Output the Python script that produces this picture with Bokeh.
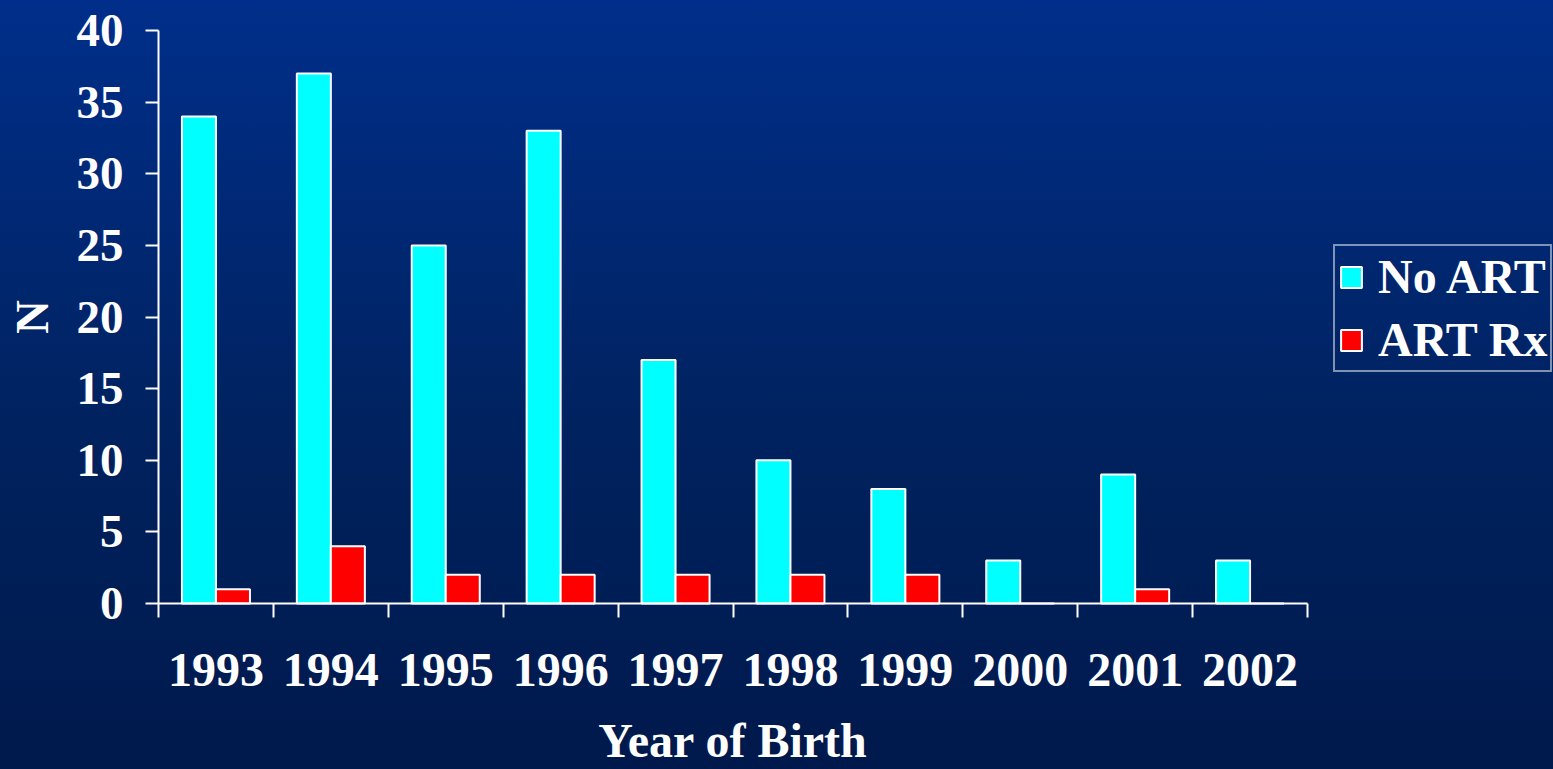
import math
from bokeh.plotting import figure
from bokeh.models import (ColumnDataSource, Range1d, FixedTicker, Legend, LegendItem)
from bokeh.core.properties import value
from bokeh.embed import file_html
from bokeh.resources import INLINE

years = ["1993", "1994", "1995", "1996", "1997", "1998", "1999", "2000", "2001", "2002"]
no_art = [34, 37, 25, 33, 17, 10, 8, 3, 9, 3]
art_rx = [1, 4, 2, 2, 2, 2, 2, 0, 1, 0]
y_ticks = [0, 5, 10, 15, 20, 25, 30, 35, 40]
y_max = 40

FONT = "Liberation Serif"
W, H = 1553, 769
# pixel layout of the axes box inside the canvas
AX_L, AX_R, AX_T, AX_B = 158, 1307, 30, 603

n = len(years)
centers = [i + 0.5 for i in range(n)]
bw = 0.296

sx = (AX_R - AX_L) / n          # px per category
sy = (AX_B - AX_T) / y_max      # px per unit
x_range = Range1d(-AX_L / sx, (W - AX_L) / sx)
y_range = Range1d(-(H - AX_B) / sy, y_max + AX_T / sy)

src = ColumnDataSource(dict(
    xc=[c - bw / 2 for c in centers],
    xr=[c + bw / 2 for c in centers],
    no_art=no_art,
    art_rx=art_rx,
))

p = figure(width=W, height=H, output_backend="svg", toolbar_location=None,
           x_range=x_range, y_range=y_range,
           min_border=0, min_border_left=0, min_border_right=0,
           min_border_top=0, min_border_bottom=0)
p.styles = {"background": "linear-gradient(to bottom, #002E8A 0%, #00225F 55%, #00194C 100%)"}
p.background_fill_color = None
p.border_fill_color = None
p.outline_line_color = None
p.grid.visible = False

r1 = p.vbar(x="xc", top="no_art", bottom=0, width=bw, source=src,
            fill_color="#00FFFF", line_color="white", line_width=2)
r2 = p.vbar(x="xr", top="art_rx", bottom=0, width=bw, source=src,
            fill_color="#FF0000", line_color="white", line_width=2)

# x axis
xa = p.xaxis[0]
xa.fixed_location = 0
xa.bounds = (0, n)
xa.ticker = FixedTicker(ticks=centers, minor_ticks=list(range(n + 1)))
xa.major_label_overrides = {c: y for c, y in zip(centers, years)}
xa.major_tick_out = 0
xa.major_tick_in = 0
xa.minor_tick_out = 14
xa.minor_tick_in = 0
xa.minor_tick_line_color = "white"
xa.minor_tick_line_width = 2
xa.axis_line_color = "white"
xa.axis_line_width = 2
xa.major_label_text_color = "white"
xa.major_label_text_font = FONT
xa.major_label_text_font_style = "bold"
xa.major_label_text_font_size = "48px"
xa.major_label_standoff = 36

# y axis
ya = p.yaxis[0]
ya.fixed_location = 0
ya.bounds = (0, y_max)
ya.ticker = FixedTicker(ticks=y_ticks)
ya.major_tick_out = 13
ya.major_tick_in = 0
ya.minor_tick_out = 0
ya.minor_tick_in = 0
ya.major_tick_line_color = "white"
ya.major_tick_line_width = 2
ya.axis_line_color = "white"
ya.axis_line_width = 2
ya.major_label_text_color = "white"
ya.major_label_text_font = FONT
ya.major_label_text_font_style = "bold"
ya.major_label_text_font_size = "47px"
ya.major_label_standoff = 22

# axis titles (screen offsets converted to data units)
p.text(x=[n / 2], y=[-(740 - AX_B) / sy], text=["Year of Birth"],
       text_color="white", text_font=value(FONT), text_font_style="bold",
       text_font_size="48px", text_align="center", text_baseline="middle")
p.text(x=[-(AX_L - 31) / sx], y=[y_max / 2], text=["N"], angle=math.pi / 2,
       text_color="white", text_font=value(FONT), text_font_style="bold",
       text_font_size="47px", text_align="center", text_baseline="middle")

legend = Legend(items=[LegendItem(label="No ART", renderers=[r1]),
                       LegendItem(label="ART Rx", renderers=[r2])],
                location=(1333, H - 372))
legend.label_text_color = "white"
legend.label_text_font = FONT
legend.label_text_font_style = "bold"
legend.label_text_font_size = "48px"
legend.glyph_width = 26
legend.glyph_height = 26
legend.label_standoff = 14
legend.label_height = 40
legend.spacing = 8
legend.padding = 3
legend.margin = 0
legend.border_line_color = "white"
legend.border_line_width = 2
legend.background_fill_color = None
legend.background_fill_alpha = 0
p.add_layout(legend, "center")

open("out.html", "w").write(file_html(p, INLINE))
